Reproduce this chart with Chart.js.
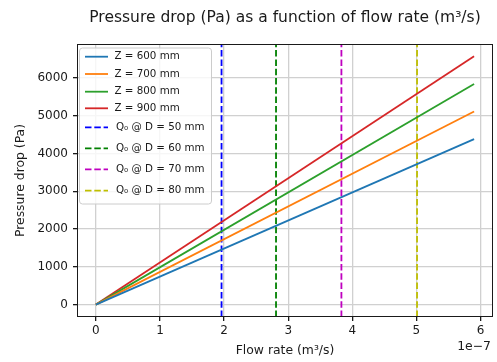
<!DOCTYPE html>
<html>
<head>
<meta charset="utf-8">
<script src="https://cdn.jsdelivr.net/npm/chart.js@4"></script>
<style>
  body { margin: 0; background: #fff; }
  canvas { display: block; }
</style>
</head>
<body>
<canvas id="chart" width="497" height="362"></canvas>
<script>
// flow rate in m3/s, pressure drop in Pa
const flowRate = [0, 5.9e-7];
const dropZ600 = [0, 4380];
const dropZ700 = [0, 5110];
const dropZ800 = [0, 5840];
const dropZ900 = [0, 6570];
const zLabels = ['Z = 600 mm', 'Z = 700 mm', 'Z = 800 mm', 'Z = 900 mm'];
const zColors = ['#1f77b4', '#ff7f0e', '#2ca02c', '#d62728'];

const q0Labels = ['Q\u2080 @ D = 50 mm', 'Q\u2080 @ D = 60 mm', 'Q\u2080 @ D = 70 mm', 'Q\u2080 @ D = 80 mm'];
const q0Values = [1.96e-7, 2.81e-7, 3.83e-7, 5.01e-7];
const q0Colors = ['#0000ff', '#008000', '#bf00bf', '#bfbf00'];

const xTicks = [0, 1, 2, 3, 4, 5, 6];
const yTicks = [0, 1000, 2000, 3000, 4000, 5000, 6000];
const xExp = 1e-7;
const yMin = -328, yMax = 6896;
const xMin = -0.295e-7, xMax = 6.195e-7;

const FONT = "'DejaVu Sans', sans-serif";
const drops = [dropZ600, dropZ700, dropZ800, dropZ900];

var datasets = [];
drops.forEach(function(d, i){
    datasets.push({
        label: zLabels[i],
        data: flowRate.map(function(x, j){ return {x: x, y: d[j]}; }),
        borderColor: zColors[i],
        borderWidth: 1.8,
        showLine: true,
        pointRadius: 0
    });
});
q0Values.forEach(function(q, i){
    datasets.push({
        label: q0Labels[i],
        data: [{x: q, y: yMin}, {x: q, y: yMax}],
        borderColor: q0Colors[i],
        borderWidth: 1.8,
        borderDash: [6.5, 2.8],
        showLine: true,
        pointRadius: 0
    });
});

const decorations = {
    id: 'decorations',
    afterDraw: function(chart){
        var ctx = chart.ctx;
        var a = chart.chartArea;
        ctx.save();

        // frame
        ctx.strokeStyle = '#1a1a1a';
        ctx.lineWidth = 1;
        ctx.strokeRect(a.left + 0.5, a.top + 0.5, a.right - a.left - 1, a.bottom - a.top - 1);

        // title
        ctx.fillStyle = '#1a1a1a';
        ctx.textAlign = 'center';
        ctx.textBaseline = 'middle';
        ctx.font = '15.5px ' + FONT;
        ctx.fillText('Pressure drop (Pa) as a function of flow rate (m\u00b3/s)', (a.left + a.right) / 2, 18);

        // axis labels
        ctx.font = '12.4px ' + FONT;
        ctx.fillText('Flow rate (m\u00b3/s)', (a.left + a.right) / 2, 351);
        ctx.textAlign = 'right';
        ctx.fillText('1e\u22127', 491, 347);
        ctx.save();
        ctx.translate(21, (a.top + a.bottom) / 2);
        ctx.rotate(-Math.PI / 2);
        ctx.textAlign = 'center';
        ctx.fillText('Pressure drop (Pa)', 0, 0);
        ctx.restore();

        // legend
        var lx = 79, ly = 47.5, lw = 132, lh = 156;
        ctx.fillStyle = 'rgba(255,255,255,0.8)';
        ctx.strokeStyle = '#cccccc';
        ctx.lineWidth = 1;
        ctx.beginPath();
        ctx.roundRect(lx + 0.5, ly + 0.5, lw, lh, 3);
        ctx.fill();
        ctx.stroke();

        var rows = [56.7, 74, 91.7, 108.3, 127.3, 148.3, 169.3, 190.7];
        ctx.font = '10.3px ' + FONT;
        ctx.textAlign = 'left';
        ctx.textBaseline = 'middle';
        chart.data.datasets.forEach(function(ds, i){
            var y = rows[i];
            ctx.strokeStyle = ds.borderColor;
            ctx.lineWidth = 1.8;
            ctx.setLineDash(ds.borderDash || []);
            ctx.beginPath();
            ctx.moveTo(85, y);
            ctx.lineTo(108, y);
            ctx.stroke();
            ctx.setLineDash([]);
            ctx.fillStyle = '#1a1a1a';
            ctx.fillText(ds.label, i < 4 ? 114.5 : 116, y);
        });
        ctx.restore();
    }
};

new Chart(document.getElementById('chart'), {
    type: 'scatter',
    data: { datasets: datasets },
    options: {
        responsive: false,
        animation: false,
        devicePixelRatio: 1,
        layout: { padding: { top: 44, right: 4, left: 0, bottom: 0 } },
        plugins: {
            legend: { display: false },
            tooltip: { enabled: false }
        },
        scales: {
            x: {
                type: 'linear',
                min: xMin,
                max: xMax,
                afterFit: function(s){ s.height = 45; },
                afterBuildTicks: function(s){ s.ticks = xTicks.map(function(v){ return {value: v * xExp}; }); },
                ticks: {
                    font: { family: FONT, size: 12 },
                    color: '#1a1a1a',
                    padding: 3,
                    maxRotation: 0,
                    callback: function(v){ return String(Math.round(v / xExp)); }
                },
                grid: { color: '#d0d0d0', lineWidth: 1.3, tickColor: '#1a1a1a', tickLength: 4 },
                border: { display: false }
            },
            y: {
                type: 'linear',
                min: yMin,
                max: yMax,
                afterFit: function(s){ s.width = 77; },
                afterBuildTicks: function(s){ s.ticks = yTicks.map(function(v){ return {value: v}; }); },
                ticks: {
                    font: { family: FONT, size: 12 },
                    color: '#1a1a1a',
                    padding: 5,
                    callback: function(v){ return String(v); }
                },
                grid: { color: '#d0d0d0', lineWidth: 1.3, tickColor: '#1a1a1a', tickLength: 4 },
                border: { display: false }
            }
        }
    },
    plugins: [decorations]
});
</script>
</body>
</html>
